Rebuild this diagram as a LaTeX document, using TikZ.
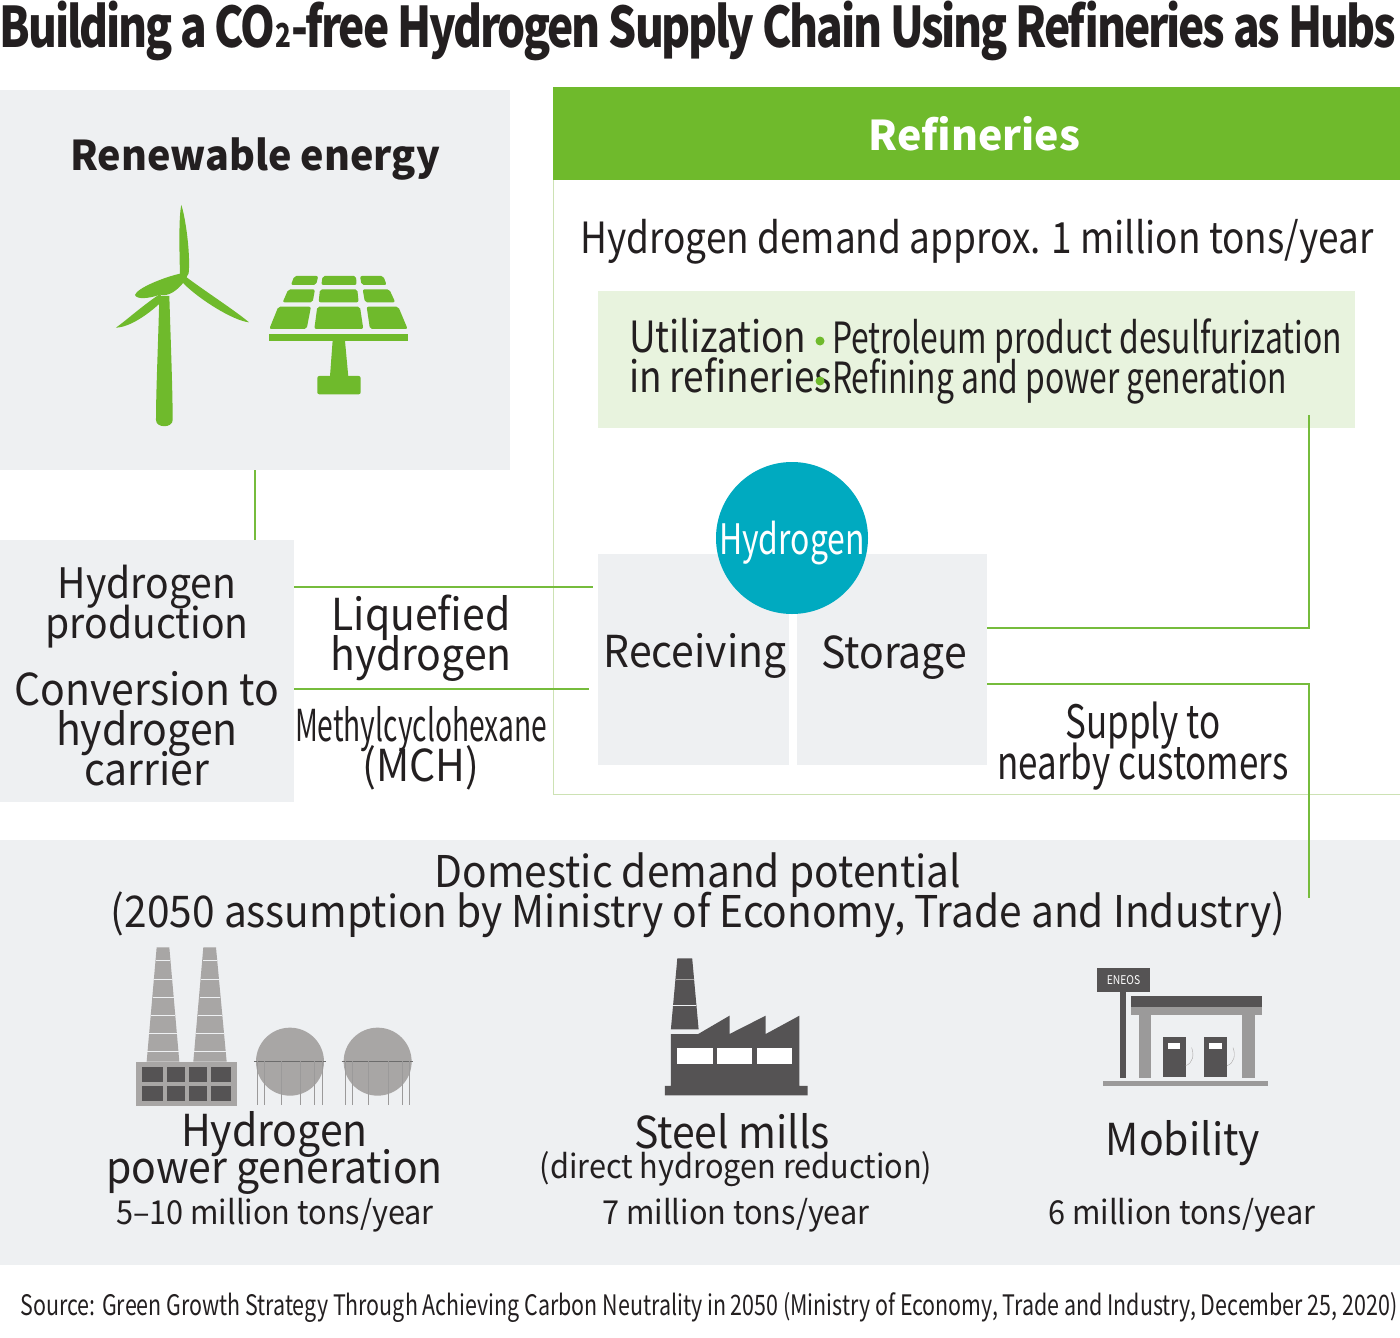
\documentclass[tikz,border=0pt]{standalone}
\usepackage{fontspec}
\setmainfont{Noto Sans CJK JP}
\newfontfamily\widefont[FakeStretch=0.93]{Noto Sans CJK JP}
\newfontfamily\condfont[FakeStretch=0.86]{Noto Sans CJK JP}
\newfontfamily\tightfont[FakeStretch=0.76]{Noto Sans CJK JP}
\newfontfamily\narrowfont[FakeStretch=0.74]{Noto Sans CJK JP}
\newfontfamily\mchfont[FakeStretch=0.64]{Noto Sans CJK JP}
\newfontfamily\headfont[FakeStretch=0.963]{Noto Sans CJK JP}
\newfontfamily\titlefont[FakeStretch=0.79,LetterSpace=-4]{Noto Sans CJK JP}
\usetikzlibrary{shapes.geometric, positioning}
\definecolor{panelgray}{RGB}{238, 240, 242}
\definecolor{refgreen}{RGB}{111, 186, 44}
\definecolor{linegreen}{RGB}{118, 188, 60}
\definecolor{framegreen}{RGB}{205, 226, 180}
\definecolor{utilgreen}{RGB}{232, 243, 222}
\definecolor{circleblue}{RGB}{0, 170, 192}
\definecolor{textdark}{RGB}{35, 31, 32}
\definecolor{iconlight}{RGB}{168, 166, 165}
\definecolor{icondark}{RGB}{85, 83, 84}
\definecolor{iconmid}{RGB}{155, 154, 154}
\newcommand{\fsz}[1]{\fontsize{#1}{#1}\selectfont}
\newcommand{\lsz}[2]{\fontsize{#1}{#2}\selectfont\lineskiplimit=-100pt\relax}

\begin{document}
\begin{tikzpicture}[
  x=1pt, y=-1pt,
  panel/.style={fill=panelgray, inner sep=0pt, outer sep=0pt},
  txt/.style={inner sep=0pt, outer sep=0pt, align=center, text=textdark},
  link/.style={draw=linegreen, line width=1.3pt},
  thinlink/.style={draw=linegreen, line width=1.2pt}
]
  \useasboundingbox (0,0) rectangle (1400,1338);

  % Title
  \node[txt, font=\titlefont\bfseries\fsz{56}] (title) at (698,31) {Building a CO{\fsz{33}2}-free Hydrogen Supply Chain Using Refineries as Hubs};

  % Renewable energy
  \node[panel, minimum width=510pt, minimum height=380pt] (renew) at (255,280) {};
  \node[txt, font=\headfont\bfseries\fsz{41}] (renewtitle) at (255,159) {Renewable energy};

  % Wind turbine
  \begin{scope}[shift={(100,190)}, x=0.3333pt, y=-0.3333pt]
    \fill[refgreen] (178,318) -- (208,318) .. controls (212,450) and (218,600) .. (218,690) .. controls (218,715) and (168,715) .. (168,690) .. controls (168,600) and (175,450) .. (178,318) -- cycle;
    \fill[refgreen] (244,45) .. controls (256,80) and (272,190) .. (266,250) -- (256,268) -- (240,252) .. controls (238,180) and (236,80) .. (244,45) -- cycle;
    \fill[refgreen] (244,252) -- (260,262) .. controls (310,300) and (410,365) .. (447,397) .. controls (400,392) and (300,330) .. (250,280) -- cycle;
    \fill[refgreen] (244,250) -- (256,270) .. controls (235,300) and (205,322) .. (180,314) .. controls (150,325) and (110,330) .. (105,315) .. controls (110,295) and (190,262) .. (244,250) -- cycle;
    \fill[refgreen] (180,312) -- (190,330) .. controls (150,370) and (90,412) .. (48,413) .. controls (80,390) and (130,345) .. (180,312) -- cycle;
  \end{scope}

  % Solar panel
  \begin{scope}[shift={(100,190)}, x=0.3333pt, y=-0.3333pt]
    \foreach \cell in {
      {(583,258) -- (655,258) -- (648,285) -- (573,285)},
      {(668,258) -- (768,258) -- (770,285) -- (664,285)},
      {(780,258) -- (850,258) -- (860,285) -- (785,285)},
      {(565,298) -- (645,298) -- (638,337) -- (548,337)},
      {(660,298) -- (772,298) -- (776,337) -- (656,337)},
      {(788,298) -- (868,298) -- (886,337) -- (795,337)},
      {(535,350) -- (633,350) -- (620,417) -- (508,417)},
      {(652,350) -- (780,350) -- (790,417) -- (643,417)},
      {(800,350) -- (895,350) -- (923,417) -- (810,417)}}
      \fill[refgreen, rounded corners=2pt] \cell -- cycle;
    \fill[refgreen] (508,433) rectangle (923,452);
    \fill[refgreen] (698,452) -- (735,452) -- (745,560) -- (690,560) -- cycle;
    \fill[refgreen, rounded corners=2pt] (652,558) rectangle (782,613);
  \end{scope}

  % Refineries
  \node[draw=framegreen, line width=0.8pt, inner sep=0pt, minimum width=847pt, minimum height=707pt, fill=white] (refinery) at (976.5,440.5) {};
  \node[fill=refgreen, inner sep=0pt, minimum width=847pt, minimum height=93pt, text=white, font=\bfseries\fsz{41}] (refhead) at (976.5,133.5) {Refineries\hspace*{4pt}};
  \node[txt, font=\condfont\fsz{43}] (h2demand) at (977,242) {Hydrogen demand approx. 1 million tons/year};

  % Utilization
  \node[fill=utilgreen, inner sep=0pt, minimum width=757pt, minimum height=137pt] (util) at (976.5,359.5) {};
  \node[txt, align=left, font=\condfont\lsz{43}{40}, anchor=west] (utilname) at (629,356) {Utilization\\in refineries};
  \node[txt, align=left, font=\narrowfont\lsz{43}{40}, anchor=west] (utillist) at (832,361) {Petroleum product desulfurization\\Refining and power generation};
  \node[circle, fill=refgreen, inner sep=0pt, minimum size=9pt] (dota) at (820,341) {};
  \node[circle, fill=refgreen, inner sep=0pt, minimum size=9pt] (dotb) at (820,381) {};

  % Receiving and storage
  \node[panel, minimum width=191pt, minimum height=211pt] (recv) at (693.5,659.5) {};
  \node[panel, minimum width=190pt, minimum height=211pt] (stor) at (892,659.5) {};
  \node[txt, font=\widefont\fsz{44}] (recvname) at (695,656) {Receiving};
  \node[txt, font=\widefont\fsz{44}] (storname) at (894,658) {Storage};
  \node[circle, fill=circleblue, inner sep=0pt, minimum size=152pt] (hydrogen) at (792,538) {};
  \node[inner sep=0pt, text=white, font=\tightfont\fsz{42}] (hydrogenname) at (792,543) {Hydrogen};
  \node[txt, font=\tightfont\lsz{46}{41}] (supply) at (1143,746) {Supply to\\nearby customers};

  % Production
  \node[panel, minimum width=294pt, minimum height=262pt] (prod) at (147,671) {};
  \node[txt, font=\widefont\lsz{42}{40}] (prodname) at (147,607) {Hydrogen\\production};
  \node[txt, font=\widefont\lsz{44}{40}] (convname) at (147,729) {Conversion to\\hydrogen\\carrier};
  \node[txt, font=\widefont\lsz{44}{40}] (liquid) at (421,638) {Liquefied\\hydrogen};
  \node[txt, font=\widefont\lsz{44}{40}] (mch) at (421,748) {{\mchfont Methylcyclohexane}\\(MCH)};

  % Demand
  \node[panel, minimum width=1400pt, minimum height=425pt] (demand) at (700,1052.5) {};
  \node[txt, font=\widefont\lsz{43.7}{40}] (demandname) at (698,895) {Domestic demand potential\\(2050 assumption by Ministry of Economy, Trade and Industry)};

  % Power plant
  \begin{scope}[shift={(120,940)}, x=0.3333pt, y=-0.3333pt]
    \fill[iconlight] (110,22) -- (148,22) -- (178,365) -- (80,365) -- cycle;
    \fill[iconlight] (250,22) -- (288,22) -- (320,365) -- (220,365) -- cycle;
    \foreach \ya/\xa/\xb/\xc/\xd in {60/107/151/249/291, 117/103/156/244/296, 172/98/161/240/300, 227/92/166/234/306, 280/87/171/229/312, 335/82/176/223/318} {
      \draw[panelgray, line width=0.6pt] (\xa,\ya) -- (\xb,\ya);
      \draw[panelgray, line width=0.6pt] (\xc,\ya) -- (\xd,\ya);
    }
    \fill[iconlight] (48,365) rectangle (350,497);
    \foreach \xa/\xb in {66/128, 140/194, 207/260, 273/333} {
      \fill[icondark] (\xa,380) rectangle (\xb,425);
      \fill[icondark] (\xa,437) rectangle (\xb,482);
    }
    \foreach \cx in {510, 773}
      \fill[iconlight] (\cx,365) circle [radius=34pt];
    \draw[iconmid!70!black, line width=0.7pt] (402,363) -- (617,363);
    \draw[iconmid!70!black, line width=0.7pt] (665,363) -- (878,363);
    \foreach \lx in {412, 432, 485, 541, 584, 607, 675, 697, 745, 805, 847, 868}
      \draw[iconmid, line width=0.7pt] (\lx,363) -- (\lx,495);
  \end{scope}

  % Steel mill and station
  \begin{scope}[shift={(650,950)}, x=0.4018pt, y=-0.3333pt]
    \fill[icondark] (68,25) -- (105,25) -- (121,238) -- (52,238) -- cycle;
    \draw[iconlight, line width=0.6pt] (64,87) -- (109,87);
    \draw[panelgray, line width=0.6pt] (58,165) -- (115,165);
    \fill[icondark] (52,252) -- (120,252) -- (198,197) -- (198,252) -- (288,197) -- (288,252) -- (372,197) -- (372,408) -- (392,408) -- (392,436) -- (37,436) -- (37,408) -- (52,408) -- cycle;
    \foreach \xa/\xb in {68/157, 167/255, 266/354}
      \fill[white] (\xa,294) rectangle (\xb,343);

    \fill[icondark] (1170,126) rectangle (1185,385);
    \fill[icondark] (1196,138) rectangle (1523,172);
    \fill[iconmid] (1196,172) rectangle (1523,196);
    \fill[iconmid] (1217,196) rectangle (1248,385);
    \fill[iconmid] (1473,196) rectangle (1506,385);
    \foreach \xa/\xb in {1276/1333, 1379/1436} {
      \fill[icondark] (\xa,260) rectangle (\xb,380);
      \fill[white] (\xa+12,280) rectangle (\xb-13,297);
      \draw[iconlight, line width=0.4pt] (\xb,347) .. controls (\xb+18,340) and (\xb+22,315) .. (\xb+15,293);
    }
    \fill[iconmid] (1127,392) rectangle (1538,407);
  \end{scope}
  \node[fill=icondark, inner sep=0pt, minimum width=53pt, minimum height=24pt, text=white, font=\condfont\fsz{12}] (eneos) at (1123.5,980) {ENEOS};

  % Demand labels
  \node[txt, font=\widefont\lsz{44}{37}] (powername) at (274.5,1153) {Hydrogen\\power generation};
  \node[txt, font=\widefont\fsz{33}] (powerval) at (275,1215) {5–10 million tons/year};
  \node[txt, font=\widefont\fsz{44}] (steelname) at (732,1131) {Steel mills};
  \node[txt, font=\widefont\fsz{33}] (steelnote) at (736,1169) {(direct hydrogen reduction)};
  \node[txt, font=\widefont\fsz{33}] (steelval) at (736,1215) {7 million tons/year};
  \node[txt, font=\widefont\fsz{44}] (mobname) at (1183,1143) {Mobility};
  \node[txt, font=\widefont\fsz{33}] (mobval) at (1182,1215) {6 million tons/year};

  % Source
  \node[txt, font=\tightfont\fsz{28.2}] (source) at (709,1307) {Source: Green Growth Strategy Through Achieving Carbon Neutrality in 2050 (Ministry of Economy, Trade and Industry, December 25, 2020)};

  % Connectors
  \coordinate (liqend) at (593,587);
  \coordinate (mchend) at (589,689);
  \coordinate (upturn) at (1309,628);
  \coordinate (uptop) at (1309,415);
  \coordinate (downturn) at (1309,684);
  \coordinate (downend) at (1309,898);
  \draw[thinlink] (renew.south) -- (renew.south |- prod.north);
  \draw[thinlink] (prod.east |- liqend) -- (liqend);
  \draw[thinlink] (prod.east |- mchend) -- (mchend);
  \draw[link] (stor.east |- upturn) -- (upturn) -- (uptop);
  \draw[link] (stor.east |- downturn) -- (downturn) -- (downend);
\end{tikzpicture}
\end{document}
